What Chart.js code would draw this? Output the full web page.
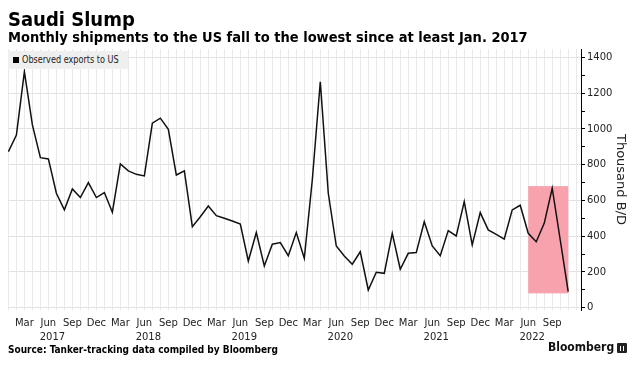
<!DOCTYPE html>
<html>
<head>
<meta charset="utf-8">
<script src="https://cdn.jsdelivr.net/npm/chart.js@4/dist/chart.umd.min.js"></script>
<style>
	html, body { margin: 0; padding: 0; background: #fff; }
	#wrap { position: relative; width: 636px; height: 365px; overflow: hidden; }
	#chart { position: absolute; left: 0; top: 0; }
	.title { position: absolute; left: 8px; top: 7px; font: bold 20px 'DejaVu Sans Condensed', 'DejaVu Sans', sans-serif; color: #000; }
	.subtitle { position: absolute; left: 8px; top: 29px; font: bold 14.5px 'DejaVu Sans Condensed', 'DejaVu Sans', sans-serif; color: #000; }
	.legend { position: absolute; left: 8px; top: 51px; width: 120px; height: 18px; background: #efefef; }
	.legend i { position: absolute; left: 5px; top: 6px; width: 6px; height: 6px; background: #000; }
	.legend span { position: absolute; left: 14px; top: 2px; font: 10.5px 'DejaVu Sans Condensed', 'DejaVu Sans', sans-serif; color: #222; white-space: nowrap; transform: scaleX(0.86); transform-origin: 0 0; }
	.source { position: absolute; left: 8px; top: 344px; font: bold 10px 'DejaVu Sans Condensed', 'DejaVu Sans', sans-serif; color: #000; }
	.brand { position: absolute; left: 548px; top: 340px; font: bold 12px 'DejaVu Sans Condensed', 'DejaVu Sans', sans-serif; color: #111; }
	.brand b { position: absolute; left: 69px; top: 3px; width: 10px; height: 10px; background: #222; border-radius: 1px; }
	.brand b:after { content: ''; position: absolute; left: 3px; top: 3px; width: 2px; height: 5px; border-left: 1px solid #fff; border-right: 1px solid #fff; }
</style>
</head>
<body>
<div id="wrap">
	<canvas id="chart" width="636" height="365"></canvas>
	<div class="title">Saudi Slump</div>
	<div class="subtitle">Monthly shipments to the US fall to the lowest since at least Jan. 2017</div>
	<div class="legend"><i></i><span>Observed exports to US</span></div>
	<div class="source">Source: Tanker-tracking data compiled by Bloomberg</div>
	<div class="brand">Bloomberg<b></b></div>
</div>
<script>
// Thousand barrels per day, one value per month from Jan 2017
const exports2017 = [873, 966, 1320, 1022, 839, 832, 640, 547, 664, 616, 700, 616];
const exports2018 = [644, 534, 804, 765, 746, 737, 1032, 1060, 998, 742, 765, 453];
const exports2019 = [509, 569, 515, 500, 485, 468, 261, 420, 233, 355, 364, 291];
const exports2020 = [420, 276, 714, 1264, 640, 345, 289, 243, 313, 99, 198, 192];
const exports2021 = [416, 215, 304, 308, 481, 345, 291, 431, 401, 593, 351, 532];
const exports2022 = [435, 410, 384, 547, 573, 416, 369, 472, 668, 380, 90];

const years = ['2017', '2018', '2019', '2020', '2021', '2022'];
const monthLabels = ['Mar', 'Jun', 'Sep', 'Dec'];
const monthLabelIdx = [2, 5, 8, 11];
const yTickValues = [0, 100, 200, 300, 400, 500, 600, 700, 800, 900, 1000, 1100, 1200, 1300, 1400];

// shaded box: Jun 2022 to Nov 2022
const highlightMonths = [65, 70];
const highlightRange = [80, 680];

const allExports = [].concat(exports2017, exports2018, exports2019, exports2020, exports2021, exports2022);
const points = allExports.map(function(v, i) { return { x: i, y: v }; });

const axisFont = { family: "'DejaVu Sans', sans-serif", size: 10 };

const highlightPlugin = {
	id: 'highlight',
	beforeDatasetsDraw: function(chart) {
		const xs = chart.scales.x;
		const ys = chart.scales.y;
		const c = chart.ctx;
		const x0 = xs.getPixelForValue(highlightMonths[0]);
		const x1 = xs.getPixelForValue(highlightMonths[1]);
		const y0 = ys.getPixelForValue(highlightRange[1]);
		const y1 = ys.getPixelForValue(highlightRange[0]);
		c.save();
		c.fillStyle = '#f8a2ad';
		c.fillRect(x0, y0, x1 - x0, y1 - y0);
		c.restore();
	}
};

const yearPlugin = {
	id: 'yearLabels',
	afterDraw: function(chart) {
		const xs = chart.scales.x;
		const c = chart.ctx;
		c.save();
		c.font = "10px 'DejaVu Sans', sans-serif";
		c.fillStyle = '#222';
		c.textAlign = 'center';
		c.textBaseline = 'middle';
		for(let i = 0; i < years.length; i++) {
			c.fillText(years[i], xs.getPixelForValue(i * 12 + 5.5), chart.chartArea.bottom + 27);
		}
		c.restore();
	}
};

const config = {
	type: 'line',
	data: {
		datasets: [{
			label: 'Observed exports to US',
			data: points,
			borderColor: '#111',
			borderWidth: 1.5,
			pointRadius: 0,
			tension: 0,
			fill: false,
		}],
	},
	options: {
		responsive: false,
		animation: false,
		events: [],
		layout: { padding: { left: 8, top: 49, right: 0, bottom: 30 } },
		plugins: {
			legend: { display: false },
			tooltip: { enabled: false },
		},
		scales: {
			x: {
				type: 'linear',
				min: -0.05,
				max: 71.6,
				afterBuildTicks: function(scale) {
					const t = [];
					for(let i = 0; i < 72; i++) t.push({ value: i });
					scale.ticks = t;
				},
				afterFit: function(scale) { scale.height = 25; },
				border: { display: false },
				grid: { color: '#e9e9e9', drawTicks: false },
				ticks: {
					autoSkip: false,
					maxRotation: 0,
					minRotation: 0,
					padding: 7,
					color: '#222',
					font: axisFont,
					callback: function(v) {
						if(v >= allExports.length) return '';
						const k = monthLabelIdx.indexOf(v % 12);
						return k >= 0 ? monthLabels[k] : '';
					},
				},
			},
			y: {
				type: 'linear',
				position: 'right',
				min: -13,
				max: 1447,
				afterBuildTicks: function(scale) {
					scale.ticks = yTickValues.map(function(v) { return { value: v }; });
				},
				afterFit: function(scale) { scale.width = 55; },
				border: { display: true, color: '#000', width: 1 },
				grid: {
					color: function(ctx) {
						return ctx.tick && ctx.tick.value % 200 === 0 ? '#e2e2e2' : 'rgba(0,0,0,0)';
					},
					tickColor: '#000',
					tickLength: 4,
				},
				ticks: {
					padding: 2,
					color: '#222',
					font: axisFont,
					callback: function(v) { return v % 200 === 0 ? v : ''; },
				},
				title: {
					display: true,
					text: 'Thousand B/D',
					color: '#222',
					font: { family: "'DejaVu Sans', sans-serif", size: 13 },
					padding: { top: 8, bottom: 0 },
				},
			},
		},
	},
	plugins: [highlightPlugin, yearPlugin],
};

new Chart(document.getElementById('chart').getContext('2d'), config);
</script>
</body>
</html>
